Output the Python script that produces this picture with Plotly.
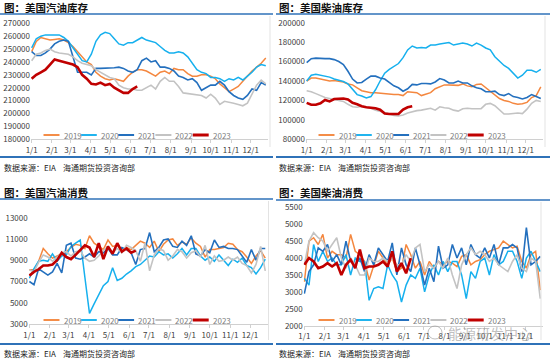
import plotly.graph_objects as go

# ---------------- data ----------------
weeks = list(range(52))
week_day = [1 + 7 * w for w in weeks]          # day-of-year of each weekly observation
month_days = [1, 32, 60, 91, 121, 152, 182, 213, 244, 274, 305, 335]
month_labels = ["1/1", "2/1", "3/1", "4/1", "5/1", "6/1", "7/1", "8/1", "9/1", "10/1", "11/1", "12/1"]
years = ["2019", "2020", "2021", "2022", "2023"]

# 美国汽油库存 (千桶)
gas_stock_2019 = [248000, 256000, 259000, 258000, 257000,
                  257500, 258000, 257000, 255000,
                  252000, 248000, 244000, 240000,
                  238000, 232000, 229000, 227000, 226000,
                  227000, 226000, 225000, 229000,
                  232000, 234000, 234000, 233000,
                  231000, 229000, 232000, 233000, 231000,
                  235000, 234000, 234000, 231000,
                  229000, 229000, 230000, 230000,
                  229000, 227000, 223000, 220000, 217000,
                  219000, 221000, 225000, 229000,
                  233000, 236000, 239000, 243000]
gas_stock_2020 = [251000, 258000, 260000, 261000, 261000,
                  261000, 261000, 259000, 256000,
                  251000, 246000, 241000, 240000,
                  246000, 256000, 261000, 263000, 262000,
                  258000, 254000, 253000, 255000,
                  255000, 257000, 259000, 257000,
                  256000, 255000, 252000, 249000, 247000,
                  247000, 248000, 247000, 244000,
                  239000, 234000, 232000, 231000,
                  228000, 228000, 227000, 225000, 227000,
                  226000, 228000, 226000, 229000,
                  232000, 236000, 238000, 237000]
gas_stock_2021 = [248000, 245000, 245000, 247000, 250000,
                  254000, 256000, 257000, 256000,
                  244000, 232000, 232000, 232000,
                  230000, 235000, 235000, 235000, 235000,
                  235500, 236000, 235000, 233000,
                  232000, 234000, 241000, 243000,
                  240000, 241000, 236000, 236000, 235000,
                  233000, 229000, 228000, 226000,
                  227000, 224000, 218000, 220000,
                  222000, 222000, 225000, 222000, 217000,
                  214000, 212000, 211000, 214000,
                  219000, 218000, 224000, 222000]
gas_stock_2022 = [241000, 246000, 247000, 249000, 250000,
                  248000, 247000, 246500, 246000,
                  244000, 241000, 239000, 238000,
                  237000, 234000, 232000, 230000, 228000,
                  227000, 222000, 220000, 219000,
                  219000, 218000, 218000, 220000,
                  222000, 219000, 225000, 228000, 225000,
                  225000, 221000, 216000, 215500,
                  215000, 214500, 214000, 212000,
                  215000, 212000, 207000, 209500, 209000,
                  208000, 207000, 206000, 208000,
                  215000, 222000, 226000, 223000]
gas_stock_2023 = [227000, 230000, 232000, 234000, 238000,
                  242000, 241000, 240000, 239500,
                  238000, 236000, 230000, 227000,
                  223000, 222500, 224000, 222000, 223000,
                  220000, 218000, 216000, 216000,
                  219000, 221000]

# 美国柴油库存 (千桶)
dsl_stock_2019 = [140000, 143000, 143000, 142000, 141000,
                  140000, 140500, 140000, 139000,
                  137000, 136000, 133000, 130000,
                  129000, 128000, 128000, 127500, 127000,
                  126000, 126000, 126000, 125000,
                  129000, 128500, 128000, 125000,
                  126500, 128000, 132000, 134000, 136000,
                  136000, 136000, 135500, 137000,
                  135000, 134000, 136500, 137000,
                  133000, 130000, 126000, 122000, 120000,
                  119000, 117000, 116000, 116500,
                  118000, 123000, 125000, 134000]
dsl_stock_2020 = [140000, 146000, 147000, 146000, 145000,
                  144000, 142000, 141000, 139500,
                  137000, 131000, 126000, 124500,
                  122500, 124000, 131000, 140000, 148000,
                  152000, 155000, 158000, 164000,
                  172000, 176000, 174000, 174500,
                  174000, 177000, 177000, 178000, 179000,
                  179500, 177000, 178000, 179000,
                  178000, 176000, 179000, 177000,
                  174000, 172000, 165000, 160000, 156000,
                  153000, 148000, 143000, 146000,
                  151000, 151000, 149000, 152000]
dsl_stock_2021 = [159000, 163000, 163500, 163000, 163000,
                  163000, 162000, 160000, 157000,
                  150000, 142000, 138000, 138500,
                  142000, 145000, 145000, 143000, 142000,
                  138000, 135000, 133000, 129500,
                  132000, 136500, 136000, 137500,
                  137500, 137000, 139000, 142500, 141000,
                  138000, 138000, 140000, 138000,
                  138000, 135000, 133000, 132000,
                  129000, 129000, 129500, 126000, 125000,
                  127000, 124000, 123000, 121500,
                  123000, 126000, 124000, 122000]
dsl_stock_2022 = [130000, 129000, 127000, 125000, 123000,
                  122000, 121000, 120000, 119000,
                  116000, 113500, 113000, 114000,
                  113000, 112000, 110000, 109000, 107500,
                  106000, 104500, 104000, 105000,
                  107000, 108500, 109500, 110000,
                  111000, 112000, 110000, 113500, 112500,
                  112000, 110000, 109000, 111500,
                  112000, 111500, 111500, 111500,
                  116000, 117000, 114500, 110000, 106000,
                  106000, 106500, 107000, 106500,
                  111000, 117000, 120000, 119000]
dsl_stock_2023 = [117500, 115500, 115500, 117000, 120500,
                  119000, 121500, 122000, 122000,
                  121000, 117500, 116000, 114000,
                  113000, 112500, 112000, 110500, 106500,
                  106000, 106000, 106000, 110500,
                  113000, 114000]

# 美国汽油消费 (千桶/日)
gas_dem_2019 = [8100, 8100, 8900, 10100, 9600,
                9200, 9400, 9600, 9800,
                10200, 10500, 10400, 10100,
                11300, 10600, 10300, 10000, 10900,
                10300, 10400, 9900, 10200,
                10000, 10400, 10800, 10600,
                10200, 10800, 9800, 10500, 10900,
                11000, 10400, 10700, 10500,
                11100, 10600, 10300, 9300,
                10000, 10000, 10100, 10200, 10600,
                10500, 10000, 9800, 9300,
                8700, 9400, 9900, 9200]
gas_dem_2020 = [7300, 8200, 8900, 9000, 8900,
                9600, 8900, 9400, 9500,
                10300, 10600, 10900, 7400,
                4000, 4900, 5700, 6600, 7000,
                8300, 7100, 7300, 7700,
                8000, 8400, 8600, 9000,
                9400, 9300, 9800, 9500, 9600,
                9200, 9600, 10100, 9500,
                10100, 10100, 9400, 9000,
                9300, 8900, 9500, 9000, 8500,
                9100, 8800, 9200, 8500,
                8300, 7700, 8300, 9100]
gas_dem_2021 = [7000, 6700, 8200, 7900, 7600,
                7900, 8700, 7800, 10400,
                10600, 9200, 9100, 9300,
                9600, 9300, 9800, 9700, 10100,
                9500, 9500, 10200, 10000,
                9700, 8600, 10000, 10100,
                11600, 9800, 10200, 10900, 11000,
                10300, 10200, 10800, 10400,
                11300, 9600, 9400, 10000,
                9700, 10900, 10200, 10300, 10100,
                10100, 10000, 9400, 8800,
                10000, 9000, 10100, 10100]
gas_dem_2022 = [8100, 7900, 8800, 9500, 9300,
                8900, 9300, 9700, 9800,
                9400, 9800, 9900, 9200,
                8900, 9000, 9400, 9900, 10300,
                9700, 10100, 9700, 10400,
                10200, 9900, 8900, 10600,
                8000, 9500, 10100, 9900, 9000,
                9400, 10000, 9800, 9200,
                9700, 9900, 9300, 10400,
                8600, 9400, 8900, 9000, 9300,
                9000, 9300, 8700, 8500,
                7800, 8600, 10300, 8000]
gas_dem_2023 = [7550, 7900, 8150, 8500, 8500,
                8600, 9000, 9700, 9300,
                9100, 9500, 10000, 10400,
                10200, 9300, 10600, 9100, 10300,
                9600, 10600, 9800, 10100,
                9700, 9900]

# 美国柴油消费 (千桶/日)
dsl_dem_2019 = [3300, 4500, 4600, 4400, 4700,
                4000, 4200, 4100, 4100,
                4000, 4700, 4200, 4100,
                3900, 3350, 3800, 4200, 4000,
                3800, 4000, 3600, 3700,
                4400, 4100, 3700, 3900,
                3500, 3900, 3700, 3900, 3800,
                3900, 3850, 3750, 4050,
                4100, 3800, 3900, 3950,
                4100, 4200, 4250, 4300, 4500,
                4400, 4300, 4350, 3900,
                3700, 4100, 4200, 3050]
dsl_dem_2020 = [3400, 3200, 4400, 3900, 4200,
                3900, 4000, 3800, 3800,
                4100, 3500, 4000, 3900,
                3900, 2750, 3100, 3150, 3100,
                3800, 3500, 3300, 2700,
                3200, 3500, 3400, 3700,
                3000, 3500, 3800, 3500, 3900,
                3600, 3900, 3900, 3500,
                2800, 3600, 3400, 3900,
                4000, 3500, 4100, 3800, 3900,
                4200, 4200, 3900, 3400,
                4000, 4200, 3900, 3600]
dsl_dem_2021 = [2950, 3600, 3800, 4300, 4200,
                4400, 3900, 4100, 3800,
                4500, 3900, 3800, 4000,
                3600, 4100, 3800, 4300, 4100,
                3900, 4450, 3500, 4300,
                3800, 3600, 4300, 3800,
                3200, 3700, 3300, 4350, 3700,
                3800, 4400, 4000, 4300,
                3800, 4400, 4100, 4000,
                4300, 4000, 4400, 3800, 4300,
                4300, 4400, 4300, 3600,
                4900, 3800, 3900, 4050]
dsl_dem_2022 = [3800, 4500, 4750, 4600, 4500,
                4200, 4400, 4600, 4000,
                3700, 4000, 3800, 3500,
                3500, 4000, 3900, 3900, 4000,
                3900, 4000, 3800, 3800,
                4100, 3900, 4300, 4400,
                3600, 3800, 3700, 3900, 3700,
                4000, 3500, 3100, 3800,
                4100, 4300, 4100, 4200,
                4100, 3900, 4000, 3800, 3700,
                3600, 3900, 4100, 3700,
                3600, 4000, 3900, 2800]
dsl_dem_2023 = [3800, 4000, 3900, 3700, 3750,
                3850, 3750, 3850, 3500,
                3800, 3950, 3700, 4250,
                3700, 3750, 3750, 3800, 3900,
                3750, 4200, 3600, 3850,
                3550, 4000]

# ---------------- style ----------------
W, H = 550, 359
FONT = "Noto Sans CJK SC"
COLORS = {"2019": "#F4873F", "2020": "#16B0EE", "2021": "#2470BE", "2022": "#C3C3C3", "2023": "#C00000"}
WIDTHS = {"2019": 1.5, "2020": 1.5, "2021": 1.6, "2022": 1.6, "2023": 2.6}
FRAME_BLUE = "#2F72B8"


def px(x):
    return x / W


def py(y):
    return 1 - y / H


panels = [
    dict(title="图：美国汽油库存", ox=0,
         xdom=(31.0, 268.4), ydom=(139.3, 23.3), yr=(180000, 270000), dtick=10000,
         series=[gas_stock_2019, gas_stock_2020, gas_stock_2021, gas_stock_2022, gas_stock_2023],
         title_y=7.5, top=14, bottom=157, src=167, leg=135, border=(16, 147), bx=270),
    dict(title="图：美国柴油库存", ox=275,
         xdom=(306.0, 543.4), ydom=(139.3, 22.7), yr=(80000, 200000), dtick=20000,
         series=[dsl_stock_2019, dsl_stock_2020, dsl_stock_2021, dsl_stock_2022, dsl_stock_2023],
         title_y=7.5, top=14, bottom=157, src=167, leg=135, border=(16, 147), bx=545),
    dict(title="图：美国汽油消费", ox=0,
         xdom=(28.7, 267.9), ydom=(324.0, 217.7), yr=(3000, 13000), dtick=2000,
         series=[gas_dem_2019, gas_dem_2020, gas_dem_2021, gas_dem_2022, gas_dem_2023],
         title_y=192, top=199, bottom=344, src=353, leg=320, border=(201, 340), bx=268.5),
    dict(title="图：美国柴油消费", ox=275,
         xdom=(303.7, 542.9), ydom=(325.7, 207.3), yr=(2000, 5500), dtick=500,
         series=[dsl_dem_2019, dsl_dem_2020, dsl_dem_2021, dsl_dem_2022, dsl_dem_2023],
         title_y=192, top=200, bottom=344, src=353, leg=320, border=(202, 340), bx=541),
]

fig = go.Figure()
shapes = []
annotations = []
layout_axes = {}

for i, p in enumerate(panels):
    n = i + 1
    xa = "x" if n == 1 else f"x{n}"
    ya = "y" if n == 1 else f"y{n}"
    for yr_name, vals in zip(years, p["series"]):
        fig.add_trace(go.Scatter(
            x=week_day[:len(vals)], y=vals, mode="lines", name=yr_name,
            line=dict(color=COLORS[yr_name], width=WIDTHS[yr_name]),
            xaxis=xa, yaxis=ya, showlegend=False, hoverinfo="skip"))

    xkey = "xaxis" if n == 1 else f"xaxis{n}"
    ykey = "yaxis" if n == 1 else f"yaxis{n}"
    layout_axes[xkey] = dict(
        domain=[px(p["xdom"][0]), px(p["xdom"][1])], anchor=ya, range=[0, 362],
        tickmode="array", tickvals=month_days, ticktext=month_labels, tickangle=0,
        showline=True, linecolor="#D0D0D0", linewidth=1,
        ticks="outside", ticklen=3, tickcolor="#D0D0D0",
        showgrid=False, zeroline=False, automargin=False,
        tickfont=dict(family=FONT, size=8, color="#404040"), fixedrange=True)
    layout_axes[ykey] = dict(
        domain=[py(p["ydom"][0]), py(p["ydom"][1])], anchor=xa, range=list(p["yr"]),
        dtick=p["dtick"], tick0=p["yr"][0], tickformat="d",
        showline=False, showgrid=False, zeroline=False, ticks="", automargin=False,
        tickfont=dict(family=FONT, size=8, color="#404040"), fixedrange=True)

    ox = p["ox"]
    # title
    annotations.append(dict(text=f"<b>{p['title']}</b>", x=px(ox + 1.5), y=py(p["title_y"]),
                            xref="paper", yref="paper", xanchor="left", yanchor="middle",
                            showarrow=False, font=dict(family=FONT, size=10.5, color="#111111")))
    # source
    annotations.append(dict(text="数据来源：EIA\u00a0\u00a0\u00a0\u00a0海通期货投资咨询部",
                            x=px(ox + 1.5), y=py(p["src"]), xref="paper", yref="paper",
                            xanchor="left", yanchor="middle", showarrow=False,
                            font=dict(family=FONT, size=8, color="#222222")))
    # frame lines
    x_end = ox + 273 if ox == 0 else 550
    x_start = ox if ox == 0 else ox + 1
    shapes.append(dict(type="line", xref="paper", yref="paper",
                       x0=px(x_start), x1=px(x_end), y0=py(p["top"]), y1=py(p["top"]),
                       line=dict(color=FRAME_BLUE, width=1.3)))
    shapes.append(dict(type="line", xref="paper", yref="paper",
                       x0=px(x_start), x1=px(x_end), y0=py(p["bottom"]), y1=py(p["bottom"]),
                       line=dict(color=FRAME_BLUE, width=2)))
    shapes.append(dict(type="line", xref="paper", yref="paper",
                       x0=px(p["bx"]), x1=px(p["bx"]), y0=py(p["border"][0]), y1=py(p["border"][1]),
                       line=dict(color="#E3E3E3", width=1)))
    # legend (manual)
    lx = ox + 43.5
    for yr_name in years:
        shapes.append(dict(type="line", xref="paper", yref="paper",
                           x0=px(lx), x1=px(lx + 16), y0=py(p["leg"]), y1=py(p["leg"]),
                           line=dict(color=COLORS[yr_name], width=WIDTHS[yr_name] + 0.4)))
        annotations.append(dict(text=yr_name, x=px(lx + 18), y=py(p["leg"]),
                                xref="paper", yref="paper", xanchor="left", yanchor="middle",
                                showarrow=False, font=dict(family=FONT, size=8, color="#808080")))
        lx += 37.3

# watermark
annotations.append(dict(text="能源研发中心", x=px(490), y=py(333), xref="paper", yref="paper",
                        xanchor="center", yanchor="middle", showarrow=False,
                        font=dict(family=FONT, size=14, color="rgba(140,140,140,0.55)")))
shapes.append(dict(type="circle", xref="paper", yref="paper",
                   x0=px(428), x1=px(442), y0=py(326), y1=py(339),
                   line=dict(color="rgba(140,140,140,0.55)", width=1)))

fig.update_layout(
    width=W, height=H, margin=dict(l=0, r=0, t=0, b=0, autoexpand=False),
    paper_bgcolor="white", plot_bgcolor="white",
    shapes=shapes, annotations=annotations, showlegend=False,
    **layout_axes)

fig.write_html("out.html", config={"displayModeBar": False})

# remove the default page margin so the 550x359 figure fills the window exactly
with open("out.html", "r", encoding="utf-8") as f:
    html = f.read()
html = html.replace("<head>", "<head><style>html,body{margin:0;padding:0;overflow:hidden;}</style>", 1)
with open("out.html", "w", encoding="utf-8") as f:
    f.write(html)
